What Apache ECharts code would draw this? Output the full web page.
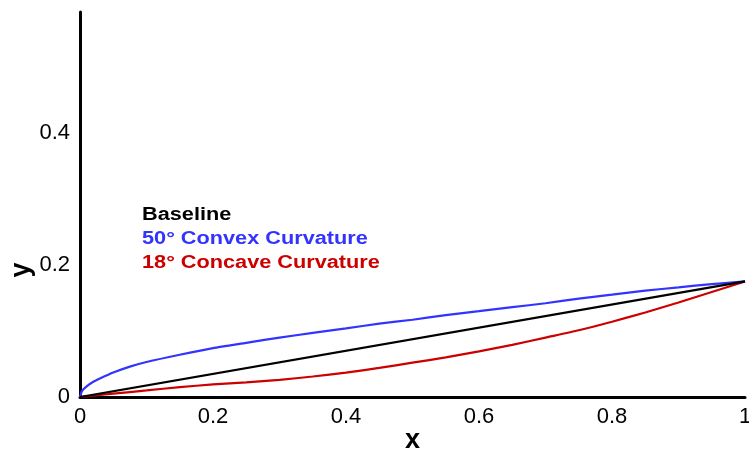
<!DOCTYPE html>
<html>
<head>
<meta charset="utf-8">
<script src="https://cdn.jsdelivr.net/npm/echarts@6/dist/echarts.min.js"></script>
<style>
html,body{margin:0;padding:0;background:#fff;}
#chart{width:749px;height:451px;}
</style>
</head>
<body>
<div id="chart"></div>
<script>
// ---- data ----
const seriesNames = ['Baseline', '50\u00B0 Convex Curvature', '18\u00B0 Concave Curvature'];

const baselineX = [0, 1];
const baselineY = [0, 0.175];

const convexX = [0, 0.003, 0.01, 0.02, 0.03, 0.05, 0.075, 0.1, 0.15, 0.2, 0.25, 0.3, 0.35, 0.4, 0.45, 0.5, 0.55, 0.6, 0.65, 0.7, 0.75, 0.8, 0.85, 0.9, 0.95, 1];
const convexY = [0, 0.009, 0.016, 0.023, 0.028, 0.037, 0.046, 0.053, 0.064, 0.074, 0.082, 0.090, 0.097, 0.104, 0.111, 0.117, 0.124, 0.130, 0.136, 0.142, 0.149, 0.155, 0.161, 0.166, 0.171, 0.175];

const concaveX = [0, 0.05, 0.1, 0.15, 0.2, 0.25, 0.3, 0.35, 0.4, 0.45, 0.5, 0.55, 0.6, 0.65, 0.7, 0.75, 0.8, 0.85, 0.9, 0.95, 1];
const concaveY = [0, 0.005, 0.010, 0.015, 0.019, 0.022, 0.026, 0.031, 0.037, 0.044, 0.052, 0.060, 0.069, 0.079, 0.090, 0.101, 0.114, 0.128, 0.143, 0.159, 0.175];

const xTicks = [0, 0.2, 0.4, 0.6, 0.8, 1];
const yTicks = [0, 0.2, 0.4];

const colors = ['#000000', '#3333ff', '#cc0000'];

function pairs(xs, ys) { return xs.map((x, i) => [x, ys[i]]); }

const chart = echarts.init(document.getElementById('chart'), null, {renderer: 'canvas'});
const FONT = 'Liberation Sans, Arial, Helvetica, sans-serif';

const option = {
  animation: false,
  backgroundColor: '#ffffff',
  grid: {left: 80, right: 4, top: 12, bottom: 54, containLabel: false, outerBoundsMode: 'none'},
  xAxis: {
    type: 'value',
    min: xTicks[0], max: xTicks[xTicks.length - 1], interval: 0.2,
    name: 'x', nameLocation: 'middle', nameGap: 30, nameMoveOverlap: false,
    nameTextStyle: {fontFamily: FONT, fontWeight: 'bold', fontSize: 27, color: '#000'},
    axisLine: {show: true, onZero: false, lineStyle: {color: '#000', width: 3}},
    axisTick: {show: false},
    splitLine: {show: false},
    axisLabel: {fontFamily: FONT, fontSize: 22, color: '#000', margin: 9,
      formatter: v => String(+v.toFixed(2))}
  },
  yAxis: {
    type: 'value',
    min: 0, max: 0.583, interval: 0.2,
    axisLine: {show: true, onZero: false, lineStyle: {color: '#000', width: 3}},
    axisTick: {show: false},
    splitLine: {show: false},
    axisLabel: {fontFamily: FONT, fontSize: 22, color: '#000', margin: 10, showMaxLabel: false,
      formatter: v => yTicks.some(t => Math.abs(t - v) < 1e-9) ? String(+v.toFixed(2)) : ''}
  },
  graphic: [
    {type: 'text', x: 22, y: 270, rotation: Math.PI / 2,
     style: {text: 'y', fontFamily: FONT, fontWeight: 'bold', fontSize: 27, fill: '#000',
             align: 'center', verticalAlign: 'middle'}},
    {type: 'text', x: 142, y: 215.5, scaleX: 1.24,
     style: {text: seriesNames[0], fontFamily: FONT, fontWeight: 'bold', fontSize: 17.5, fill: colors[0],
             align: 'left', verticalAlign: 'middle'}},
    {type: 'text', x: 142, y: 239.5, scaleX: 1.24,
     style: {text: seriesNames[1], fontFamily: FONT, fontWeight: 'bold', fontSize: 17.5, fill: colors[1],
             align: 'left', verticalAlign: 'middle'}},
    {type: 'text', x: 142, y: 263, scaleX: 1.24,
     style: {text: seriesNames[2], fontFamily: FONT, fontWeight: 'bold', fontSize: 17.5, fill: colors[2],
             align: 'left', verticalAlign: 'middle'}}
  ],
  series: [
    {name: seriesNames[0], type: 'line', data: pairs(baselineX, baselineY), showSymbol: false,
     lineStyle: {color: colors[0], width: 2.2}, z: 3},
    {name: seriesNames[1], type: 'line', data: pairs(convexX, convexY), showSymbol: false,
     smooth: 0.2, lineStyle: {color: colors[1], width: 2.2}, z: 2},
    {name: seriesNames[2], type: 'line', data: pairs(concaveX, concaveY), showSymbol: false,
     smooth: 0.2, lineStyle: {color: colors[2], width: 2.2}, z: 2}
  ]
};
chart.setOption(option);
</script>
</body>
</html>
